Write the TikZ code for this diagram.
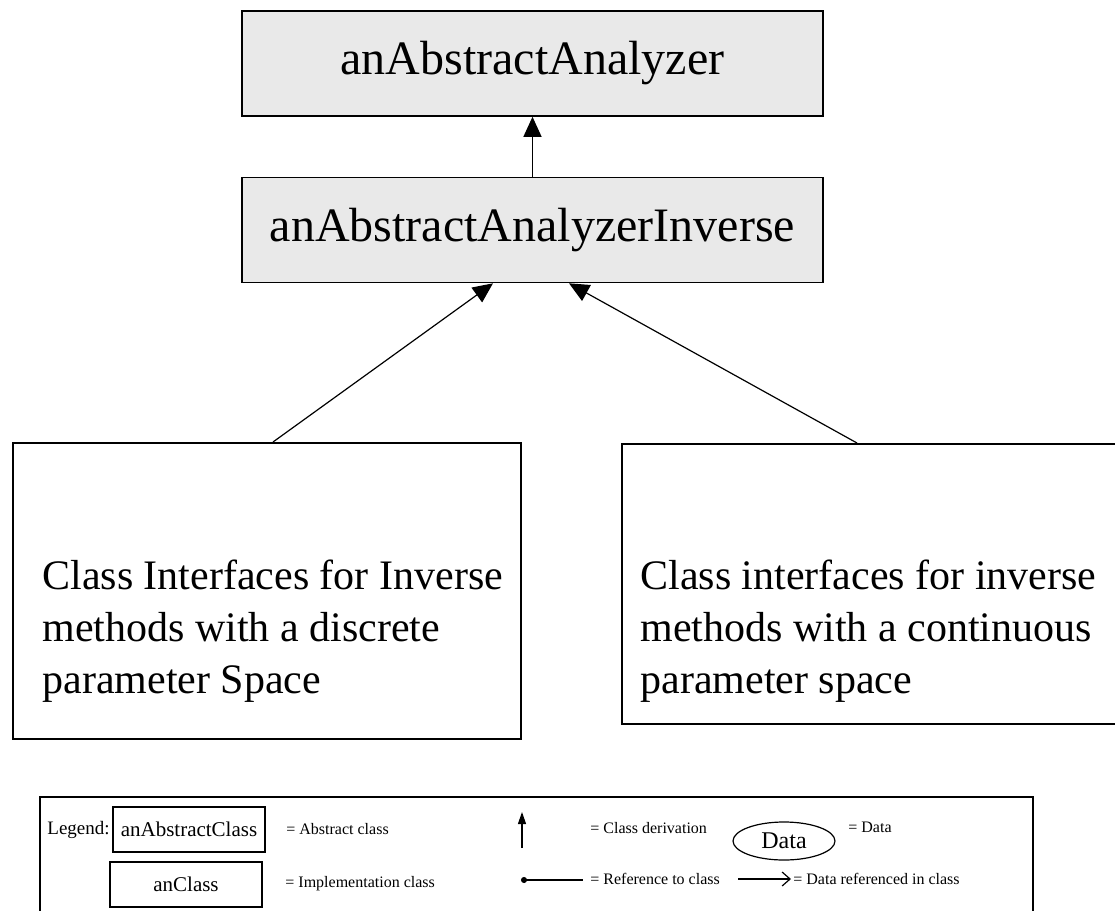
\documentclass[tikz,border=0pt]{standalone}
\usepackage{fontspec}
\setmainfont{Liberation Serif}
\usepackage{tikz}
\usetikzlibrary{arrows.meta, positioning, shapes.geometric}
\definecolor{grisCaja}{RGB}{233,233,233}

\begin{document}
\begin{tikzpicture}[x=0.5pt, y=-0.5pt,
  abst/.style={rectangle, draw, line width=0.8pt, fill=grisCaja, inner sep=0pt,
              minimum width=290.5pt, minimum height=52.5pt, font=\fontsize{24}{28}\selectfont},
  grupo/.style={rectangle, draw, line width=0.8pt, anchor=north west, inner sep=0pt},
  texto/.style={anchor=west, align=left, inner sep=0pt, font=\fontsize{21}{26}\selectfont},
  deriv/.style={-{Triangle[width=9pt, length=10pt]}, line width=0.6pt},
  muestra/.style={rectangle, draw, line width=0.6pt, inner sep=0pt,
              minimum height=22.5pt, font=\fontsize{10.5}{12}\selectfont},
  lbl/.style={anchor=base west, inner sep=0pt, font=\fontsize{8}{10}\selectfont}
]
  \useasboundingbox (0,0) rectangle (1115,911);

  % class hierarchy
  \node[abst] (AA) at (532.5,63.5) {anAbstractAnalyzer};
  \node[abst] (AAI) at (532.5,230) {anAbstractAnalyzerInverse};
  \node[grupo, minimum width=254pt, minimum height=148pt] (disc) at (12,442) {};
  \node[texto] (discT) at (42,631)
    {Class Interfaces for Inverse\\methods with a discrete\\parameter Space};
  \node[grupo, minimum width=252pt, minimum height=140pt] (cont) at (621,443) {};
  \node[texto] (contT) at (640,631)
    {Class interfaces for inverse\\methods with a continuous\\parameter space};

  \coordinate (dA) at (273,442);
  \coordinate (cA) at (857,443);
  \draw[deriv] (AAI) -- (AA);
  \draw[deriv] (dA) -- (AAI.south west -| 493,0);
  \draw[deriv] (cA) -- (AAI.south west -| 569,0);

  % legend
  \draw[line width=0.6pt] (40,797) rectangle (1033,925);
  \node[anchor=base west, inner sep=0pt, font=\fontsize{9.5}{11}\selectfont] (lgd) at (47,834) {Legend:};
  \node[muestra, minimum width=76pt] (mAbs) at (189,829.5) {anAbstractClass};
  \node[lbl] (tAbs) at (286,834) {= Abstract class};
  \node[muestra, minimum width=76pt] (mImp) at (186,884.5) {anClass};
  \node[lbl] (tImp) at (285,887) {= Implementation class};

  \coordinate (dB) at (522,848);
  \coordinate (dT) at (522,812);
  \draw[-{Triangle[width=4pt, length=6pt]}, line width=0.6pt] (dB) -- (dT);
  \node[lbl] (tDer) at (590,833) {= Class derivation};
  \coordinate (rA) at (521,880);
  \coordinate (rB) at (583,880);
  \draw[{Circle[length=3pt]}-, line width=0.6pt] (rA) -- (rB);
  \node[lbl] (tRef) at (590,884) {= Reference to class};

  \node[ellipse, draw, line width=0.6pt, minimum width=51pt, minimum height=19pt,
        inner sep=0pt, font=\fontsize{12}{14}\selectfont] (dat) at (784,841) {Data};
  \node[lbl] (tDat) at (848,832) {= Data};
  \coordinate (fA) at (738,879);
  \coordinate (fB) at (791,879);
  \draw[-{Straight Barb[length=4pt, width=7pt]}, line width=0.6pt] (fA) -- (fB);
  \node[lbl] (tFlu) at (793,884) {= Data referenced in class};
\end{tikzpicture}
\end{document}
